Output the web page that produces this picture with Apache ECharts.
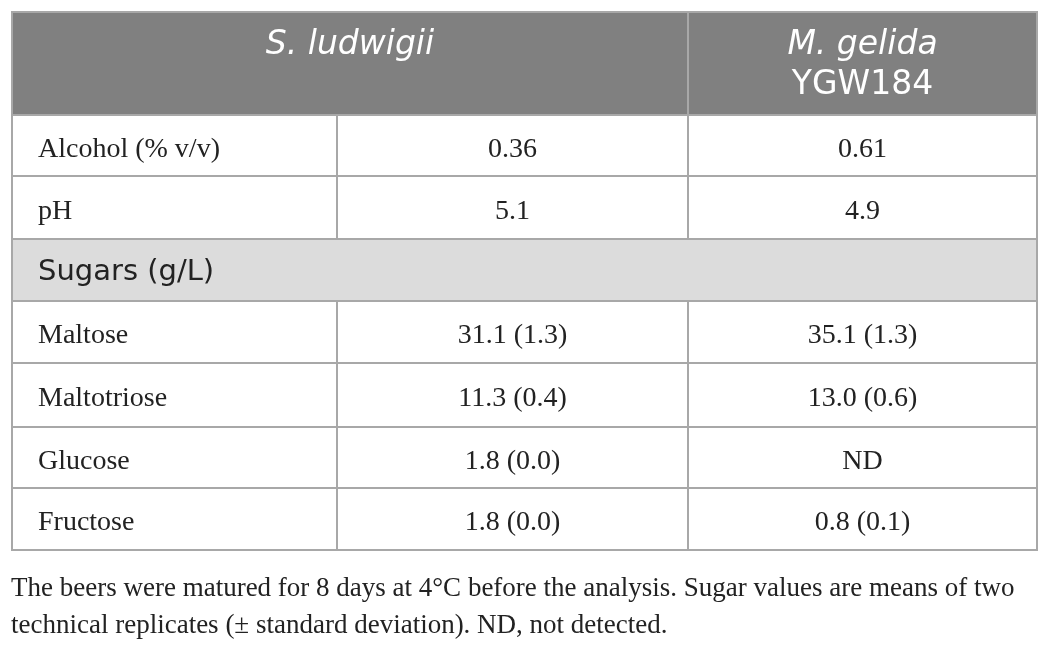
<!DOCTYPE html>
<html>
<head>
<meta charset="utf-8">
<script src="https://cdn.jsdelivr.net/npm/echarts@6/dist/echarts.min.js"></script>
<style>
  html, body { margin: 0; padding: 0; background: #fff; }
  #main { width: 1051px; height: 647px; }
</style>
</head>
<body>
<div id="main"></div>
<script>
// table content
const columnHeaders = ['S. ludwigii', 'M. gelida\nYGW184']
const rowLabels = ['Alcohol (% v/v)', 'pH', 'Sugars (g/L)', 'Maltose', 'Maltotriose', 'Glucose', 'Fructose']
const sLudwigii = ['0.36', '5.1', null, '31.1 (1.3)', '11.3 (0.4)', '1.8 (0.0)', '1.8 (0.0)']
const mGelida = ['0.61', '4.9', null, '35.1 (1.3)', '13.0 (0.6)', 'ND', '0.8 (0.1)']
const sectionRows = ['Sugars (g/L)']
const footnote = 'The beers were matured for 8 days at 4°C before the analysis. Sugar values are means of two\ntechnical replicates (± standard deviation). ND, not detected.'

// layout (axis units)
const colEdges = [0, 325, 676, 1025]
const rowEdges = [0, 103, 164, 227, 289, 351, 415, 476, 538]

// cells: [x0, x1, y0, y1, text, kind]
const cells = []
cells.push([colEdges[0], colEdges[2], rowEdges[0], rowEdges[1], columnHeaders[0], 'head'])
cells.push([colEdges[2], colEdges[3], rowEdges[0], rowEdges[1], columnHeaders[1], 'head'])
rowLabels.forEach((label, i) => {
  const y0 = rowEdges[i + 1], y1 = rowEdges[i + 2]
  if (sectionRows.includes(label)) {
    cells.push([colEdges[0], colEdges[3], y0, y1, label, 'section'])
  } else {
    cells.push([colEdges[0], colEdges[1], y0, y1, label, 'label'])
    cells.push([colEdges[1], colEdges[2], y0, y1, sLudwigii[i], 'value'])
    cells.push([colEdges[2], colEdges[3], y0, y1, mGelida[i], 'value'])
  }
})

const headFont = { fontSize: 33, fontFamily: 'DejaVu Sans', fill: '#fff', lineHeight: 40 }

const renderCell = (params, api) => {
  const p0 = api.coord([api.value(0), api.value(2)])
  const p1 = api.coord([api.value(1), api.value(3)])
  const kind = cells[params.dataIndex][5]
  const text = cells[params.dataIndex][4]
  const w = p1[0] - p0[0], h = p1[1] - p0[1]
  const fill = kind === 'head' ? '#808080' : kind === 'section' ? '#dcdcdc' : '#fff'
  let textEl
  if (kind === 'head') {
    // species name italic, strain code upright
    const parts = text.split('\n')
    let rich = '{i|' + parts[0] + '}'
    if (parts[1]) rich += '\n{n|' + parts[1] + '}'
    textEl = {
      type: 'text',
      style: {
        text: rich, x: p0[0] + w / 2, y: p0[1] + 13,
        align: 'center', verticalAlign: 'top',
        fill: '#fff', fontSize: 33, fontFamily: 'DejaVu Sans',
        rich: {
          i: Object.assign({ fontStyle: 'italic' }, headFont),
          n: Object.assign({}, headFont)
        }
      }
    }
  } else if (kind === 'section') {
    textEl = {
      type: 'text',
      style: {
        text: text, x: p0[0] + 26, y: p0[1] + h / 2 + 2,
        align: 'left', verticalAlign: 'middle',
        fill: '#222', fontSize: 29, fontFamily: 'DejaVu Sans'
      }
    }
  } else {
    textEl = {
      type: 'text',
      style: {
        text: text || '',
        x: kind === 'label' ? p0[0] + 26 : p0[0] + w / 2,
        y: p0[1] + h / 2 + 4,
        align: kind === 'label' ? 'left' : 'center', verticalAlign: 'middle',
        fill: '#222', fontSize: 28, fontFamily: 'Liberation Serif'
      }
    }
  }
  return {
    type: 'group',
    children: [
      {
        type: 'rect',
        shape: { x: p0[0], y: p0[1], width: w, height: h },
        style: { fill: fill, stroke: '#a8a8a8', lineWidth: 2 }
      },
      textEl
    ]
  }
}

const option = {
  animation: false,
  title: {
    text: footnote,
    left: 11,
    top: 570,
    padding: 0,
    textStyle: {
      fontFamily: 'Liberation Serif',
      fontWeight: 'normal',
      fontSize: 27,
      lineHeight: 37,
      color: '#222'
    }
  },
  grid: { left: 12, top: 12, width: 1025, height: 538 },
  xAxis: { type: 'value', min: colEdges[0], max: colEdges[3], show: false },
  yAxis: { type: 'value', min: rowEdges[0], max: rowEdges[rowEdges.length - 1], inverse: true, show: false },
  series: [
    {
      type: 'custom',
      renderItem: renderCell,
      encode: { x: [0, 1], y: [2, 3] },
      data: cells.map(c => [c[0], c[1], c[2], c[3]]),
      silent: true
    }
  ]
}

const chart = echarts.init(document.getElementById('main'))
chart.setOption(option)
</script>
</body>
</html>
